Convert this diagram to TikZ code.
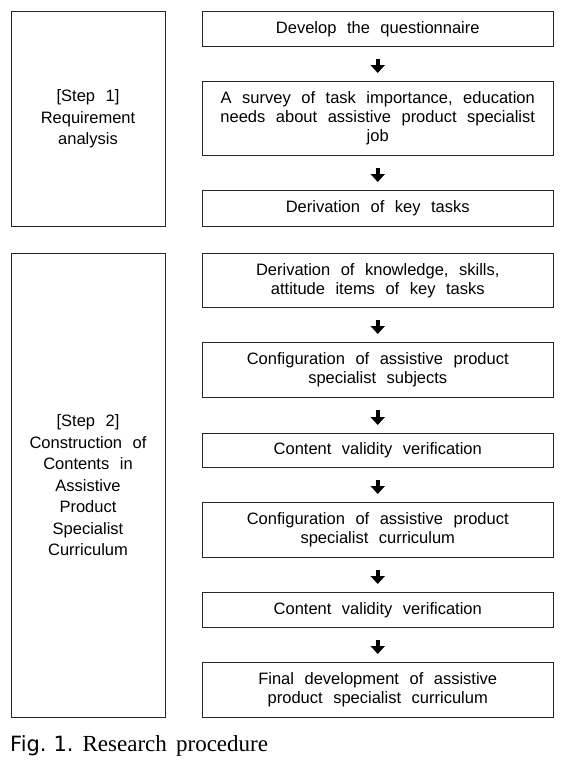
\documentclass[tikz,border=0pt]{standalone}
\usepackage{fontspec}
\setmainfont[WordSpace=2.3]{Liberation Sans}
\newfontfamily\capsans{DejaVu Sans}
\newfontfamily\capserif[WordSpace=1.6]{Liberation Serif}
\usetikzlibrary{arrows.meta}
\begin{document}
\begin{tikzpicture}[x=1pt,y=-1pt,
  box/.style={draw=black!85, line width=1pt, minimum width=351.5pt, inner sep=0pt,
    anchor=north west, align=center, font=\fontsize{16.5}{19}\selectfont},
  stepbox/.style={draw=black!85, line width=1pt, minimum width=154pt, inner sep=0pt,
    anchor=north west, align=center, font=\fontsize{16.5}{21.5}\selectfont},
  arr/.style={line width=4.3pt, -{Triangle[width=14pt,length=8pt]}, shorten <=12pt, shorten >=8pt}]
\useasboundingbox (0,0) rectangle (574,761);
% left step boxes
\node[stepbox, minimum height=215pt] (s1) at (10.5,11) {[Step 1]\\Requirement\\analysis};
\node[stepbox, minimum height=464pt] (s2) at (10.5,253) {[Step 2]\\Construction of\\Contents in\\Assistive\\Product\\Specialist\\Curriculum};
% right process boxes
\node[box, minimum height=35pt] (b1) at (201.5,11) {Develop the questionnaire};
\node[box, minimum height=74pt] (b2) at (201.5,81) {A survey of task importance, education\\needs about assistive product specialist\\job};
\node[box, minimum height=36pt] (b3) at (201.5,190) {Derivation of key tasks};
\node[box, minimum height=54pt] (b4) at (201.5,253) {Derivation of knowledge, skills,\\attitude items of key tasks};
\node[box, minimum height=55pt] (b5) at (201.5,342) {Configuration of assistive product\\specialist subjects};
\node[box, minimum height=34pt] (b6) at (201.5,433) {Content validity verification};
\node[box, minimum height=55pt] (b7) at (201.5,502) {Configuration of assistive product\\specialist curriculum};
\node[box, minimum height=35pt] (b8) at (201.5,592) {Content validity verification};
\node[box, minimum height=55pt] (b9) at (201.5,662) {Final development of assistive\\product specialist curriculum};
% arrows
\draw[arr] (b1.south) -- (b2.north);
\draw[arr] (b2.south) -- (b3.north);
\draw[arr] (b4.south) -- (b5.north);
\draw[arr] (b5.south) -- (b6.north);
\draw[arr] (b6.south) -- (b7.north);
\draw[arr] (b7.south) -- (b8.north);
\draw[arr] (b8.south) -- (b9.north);
% caption
\node[anchor=base west, inner sep=0pt] (cap) at (10,751)
  {{\capsans\fontsize{21}{24}\selectfont Fig.\hspace{7pt}1.}\hspace{9pt}{\capserif\fontsize{23}{26}\selectfont Research procedure}};
\end{tikzpicture}
\end{document}
